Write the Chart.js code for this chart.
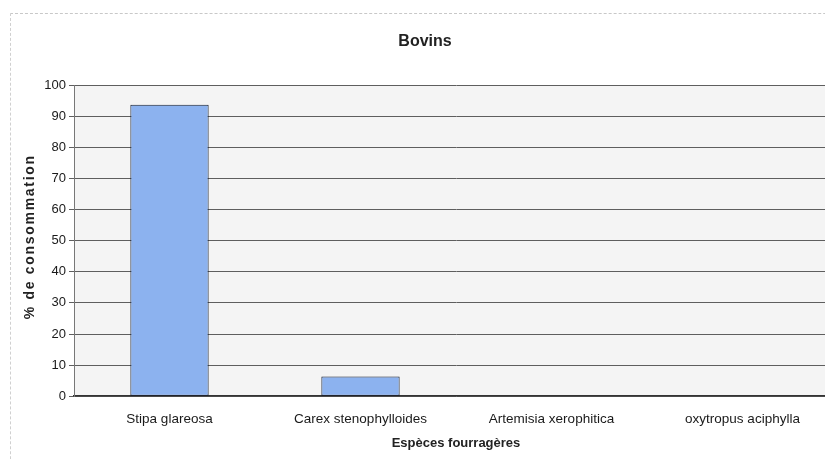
<!DOCTYPE html>
<html>
<head>
<meta charset="utf-8">
<script src="https://cdn.jsdelivr.net/npm/chart.js@4/dist/chart.umd.min.js"></script>
<style>
  html, body { margin: 0; padding: 0; background: #fff; overflow: hidden; }
  #wrap { position: relative; width: 825px; height: 459px; overflow: hidden; }
  #frame {
    position: absolute; left: 10px; top: 13px; width: 900px; height: 500px;
    border-top: 1px dashed #c8c8c8; border-left: 1px dashed #d0d0d0;
  }
  #bovinsChart { position: absolute; left: 0; top: 0; }
</style>
</head>
<body>
<div id="wrap">
  <div id="frame"></div>
  <canvas id="bovinsChart" width="840" height="459"></canvas>
</div>
<script>
  const categories = ['Stipa glareosa', 'Carex stenophylloides', 'Artemisia xerophitica', 'oxytropus aciphylla'];
  const consumption = [93.7, 6.3, 0, 0];
  const yTicks = [0, 10, 20, 30, 40, 50, 60, 70, 80, 90, 100];
  const yTitle = '% de consommation';

  const font = 'Liberation Sans, Arial, sans-serif';

  // light grey fill behind the plot area
  const plotBg = {
    id: 'plotBg',
    beforeDraw(chart) {
      const { ctx, chartArea: a } = chart;
      ctx.save();
      ctx.fillStyle = '#f4f4f4';
      ctx.fillRect(a.left, a.top, a.right - a.left, a.bottom - a.top);
      ctx.restore();
    }
  };

  // rotated y axis title, letter-spaced
  const yAxisTitle = {
    id: 'yAxisTitle',
    afterDraw(chart) {
      const { ctx, chartArea: a } = chart;
      ctx.save();
      ctx.translate(30, (a.top + a.bottom) / 2 - 4);
      ctx.rotate(-Math.PI / 2);
      ctx.font = 'bold 14px ' + font;
      if ('letterSpacing' in ctx) ctx.letterSpacing = '1.7px';
      ctx.fillStyle = '#222';
      ctx.textAlign = 'center';
      ctx.textBaseline = 'middle';
      ctx.fillText(yTitle, 0, 0);
      ctx.restore();
    }
  };

  new Chart(document.getElementById('bovinsChart').getContext('2d'), {
    type: 'bar',
    data: {
      labels: categories,
      datasets: [{
        data: consumption,
        backgroundColor: '#8cb2ef',
        borderColor: '#10182a',
        borderWidth: 1,
        borderSkipped: false,
        barPercentage: 0.41,
        categoryPercentage: 1,
      }]
    },
    options: {
      responsive: false,
      animation: false,
      layout: { padding: { left: 12, right: 2, top: 0, bottom: 0 } },
      plugins: {
        legend: { display: false },
        tooltip: { enabled: false },
        title: {
          display: true,
          text: 'Bovins',
          color: '#222',
          font: { family: font, size: 16, weight: 'bold' },
          padding: { top: 32, bottom: 34 },
        },
      },
      scales: {
        x: {
          grid: { display: false, drawTicks: false },
          border: { display: true, color: '#333', width: 1.5 },
          ticks: { color: '#1a1a1a', padding: 15, maxRotation: 0, font: { family: font, size: 13.5 } },
          title: {
            display: true,
            text: 'Espèces fourragères',
            color: '#222',
            font: { family: font, size: 13, weight: 'bold' },
            padding: { top: -7, bottom: 8 },
          },
        },
        y: {
          min: 0, max: 100,
          afterBuildTicks: axis => { axis.ticks = yTicks.map(v => ({ value: v })); },
          afterFit: axis => { axis.width = 62; },
          grid: { color: '#5e5e5e', lineWidth: 1, tickLength: 5 },
          border: { display: true, color: '#777', width: 1 },
          ticks: { color: '#1a1a1a', padding: 3, font: { family: font, size: 13 } },
        }
      }
    },
    plugins: [plotBg, yAxisTitle]
  });
</script>
</body>
</html>
